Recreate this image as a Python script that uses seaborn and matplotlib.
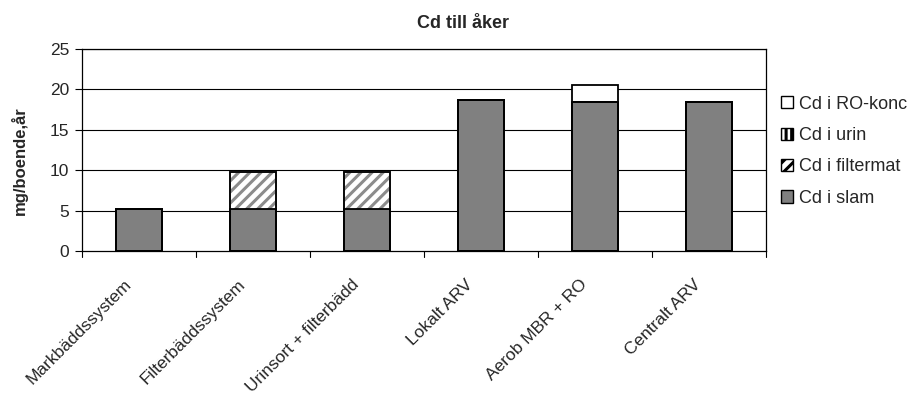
import matplotlib
matplotlib.use("Agg")
import matplotlib.pyplot as plt
import matplotlib.transforms as mtransforms
import seaborn as sns
import numpy as np
import pandas as pd
from matplotlib.patches import Patch

categories = ["Markbäddssystem", "Filterbäddssystem", "Urinsort + filterbädd",
              "Lokalt ARV", "Aerob MBR + RO", "Centralt ARV"]
cd_slam = [5.2, 5.2, 5.2, 18.7, 18.5, 18.5]
cd_filtermat = [0.0, 4.6, 4.6, 0.0, 0.0, 0.0]
cd_urin = [0.0, 0.0, 0.0, 0.0, 0.0, 0.0]
cd_ro_konc = [0.0, 0.0, 0.0, 0.0, 2.1, 0.0]
series_names = ["Cd i slam", "Cd i filtermat", "Cd i urin", "Cd i RO-konc"]
yticks = [0, 5, 10, 15, 20, 25]

sns.set_theme(style="white")
plt.rcParams["font.family"] = ["Liberation Sans", "DejaVu Sans"]
plt.rcParams["hatch.linewidth"] = 2.2

df = pd.DataFrame({
    "system": categories,
    "slam": cd_slam,
    "filtermat": cd_filtermat,
    "urin": cd_urin,
    "ro": cd_ro_konc,
})
# cumulative stack heights, drawn from the top layer down so each lower layer covers the one above
df["c_slam"] = df["slam"]
df["c_filtermat"] = df["c_slam"] + df["filtermat"]
df["c_urin"] = df["c_filtermat"] + df["urin"]
df["c_ro"] = df["c_urin"] + df["ro"]

fig = plt.figure(figsize=(9.16, 3.98), dpi=100)
ax = fig.add_axes([0.0895, 0.369, 0.7465, 0.508])

layers = [
    ("c_ro", dict(color="white", hatch=None)),
    ("c_urin", dict(color="white", hatch=None)),
    ("c_filtermat", dict(color="white", hatch="///")),
    ("c_slam", dict(color="#808080", hatch=None)),
]
for col, style in layers:
    bars_before = len(ax.patches)
    sns.barplot(data=df, x="system", y=col, ax=ax, color=style["color"],
                width=0.4, edgecolor="black", linewidth=1.3, saturation=1,
                errorbar=None)
    if style["hatch"]:
        new = ax.patches[bars_before:]
        for p in new:
            p.set_hatch(style["hatch"])
            p.set_edgecolor("#8c8c8c")
        # black outline over the hatched bars
        for p in new:
            if p.get_height() > 0:
                ax.add_patch(plt.Rectangle(p.get_xy(), p.get_width(), p.get_height(),
                                           fill=False, edgecolor="black", linewidth=1.3, zorder=3))

ax.set_ylim(0, 25)
ax.set_xlim(-0.5, len(categories) - 0.5)
ax.set_yticks(yticks)
ax.set_yticklabels([str(v) for v in yticks], fontsize=12.5)
for v in yticks[1:]:
    ax.axhline(v, color="black", linewidth=0.8, zorder=0)

ax.set_xticks(np.arange(len(categories)))
ax.set_xticklabels(categories, rotation=45, ha="right", va="center",
                   rotation_mode="anchor", fontsize=12.5)
ax.tick_params(axis="x", length=0, pad=0)
shift = mtransforms.ScaledTranslation(-0.10, -0.31, fig.dpi_scale_trans)
for lbl in ax.get_xticklabels():
    lbl.set_transform(lbl.get_transform() + shift)
ax.tick_params(axis="y", length=5, width=0.8, color="black", left=True, pad=4)
# category separator ticks below the axis
for b in np.arange(-0.5, len(categories), 1.0):
    ax.plot([b, b], [0, -0.75], color="black", linewidth=0.8, clip_on=False)

for s in ax.spines.values():
    s.set_color("black")
    s.set_linewidth(0.9)

ax.set_xlabel("")
ax.set_ylabel("mg/boende,år", fontsize=12, fontweight="bold")
ax.yaxis.set_label_coords(-0.079, 0.45)
fig.text(0.505, 0.94, "Cd till åker", ha="center", va="center", fontsize=13, fontweight="bold")

handles = [
    Patch(facecolor="white", edgecolor="black", label=series_names[3]),
    Patch(facecolor="white", edgecolor="black", hatch="|||", label=series_names[2]),
    Patch(facecolor="white", edgecolor="black", hatch="///", label=series_names[1]),
    Patch(facecolor="#808080", edgecolor="black", label=series_names[0]),
]
fig.legend(handles=handles, loc="upper left", bbox_to_anchor=(0.853, 0.76),
           frameon=False, fontsize=13, handlelength=0.65, handleheight=0.65,
           handletextpad=0.35, labelspacing=0.8, borderpad=0, borderaxespad=0)

fig.savefig("out.png", dpi=100, facecolor="white")
